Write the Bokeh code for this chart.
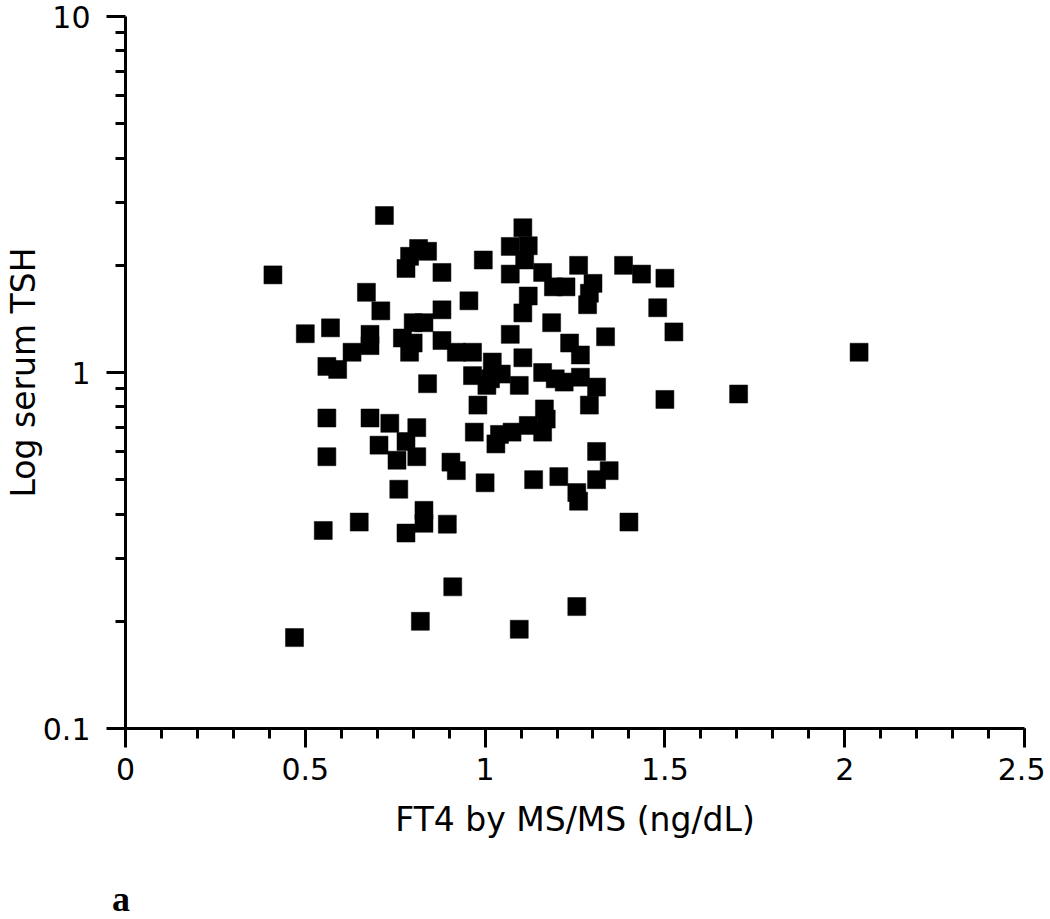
from bokeh.plotting import figure
from bokeh.layouts import column
from bokeh.models import (SingleIntervalTicker, FixedTicker, Range1d, Div,
                          CustomJSTickFormatter, ColumnDataSource)
from bokeh.embed import file_html
from bokeh.resources import INLINE

# FT4 by MS/MS (ng/dL)
ft4 = [0.41, 0.47, 0.50, 0.57, 0.56, 0.59, 0.56, 0.56, 0.55, 0.65,
       0.67, 0.71, 0.68, 0.68, 0.63, 0.72, 0.815, 0.84, 0.79, 0.78,
       0.88, 0.995, 0.955, 0.88, 0.80, 0.83, 0.77, 0.80, 0.79, 0.88,
       0.92, 0.965, 1.02, 0.965, 0.84, 1.015, 0.98, 0.735, 0.705, 0.78,
       0.755, 0.81, 0.81, 0.68, 0.76, 0.83, 0.83, 0.78, 0.895, 0.905,
       0.92, 0.97, 1.03, 1.00, 0.82, 0.91, 1.105, 1.07, 1.12, 1.11,
       1.07, 1.16, 1.26, 1.385, 1.435, 1.50, 1.19, 1.225, 1.30, 1.29,
       1.285, 1.12, 1.105, 1.48, 1.185, 1.525, 1.07, 1.235, 1.335, 1.265,
       1.105, 1.16, 1.045, 1.195, 1.265, 1.31, 1.005, 1.50, 1.095, 1.22,
       1.29, 1.165, 1.17, 1.12, 1.16, 1.075, 1.04, 1.31, 1.345, 1.31,
       1.205, 1.135, 1.255, 1.26, 1.40, 1.705, 2.04, 1.255, 1.095]

# Serum TSH (log axis)
tsh = [1.88, 0.18, 1.285, 1.335, 1.04, 1.02, 0.745, 0.58, 0.36, 0.38,
       1.68, 1.49, 1.28, 1.19, 1.14, 2.76, 2.23, 2.19, 2.12, 1.96,
       1.91, 2.07, 1.59, 1.50, 1.38, 1.38, 1.25, 1.21, 1.14, 1.23,
       1.14, 1.14, 1.07, 0.98, 0.93, 0.96, 0.81, 0.72, 0.625, 0.64,
       0.567, 0.70, 0.58, 0.745, 0.47, 0.41, 0.377, 0.354, 0.375, 0.56,
       0.53, 0.68, 0.63, 0.49, 0.20, 0.25, 2.55, 2.26, 2.27, 2.07,
       1.89, 1.91, 2.00, 2.00, 1.89, 1.84, 1.74, 1.74, 1.78, 1.67,
       1.55, 1.64, 1.47, 1.52, 1.38, 1.30, 1.28, 1.21, 1.26, 1.12,
       1.10, 1.00, 0.99, 0.96, 0.97, 0.91, 0.92, 0.84, 0.92, 0.94,
       0.81, 0.79, 0.74, 0.71, 0.68, 0.68, 0.67, 0.60, 0.53, 0.50,
       0.51, 0.50, 0.46, 0.435, 0.38, 0.87, 1.14, 0.22, 0.19]

y_major = [0.1, 1, 10]
y_minor = [0.2, 0.3, 0.4, 0.5, 0.6, 0.7, 0.8, 0.9,
           2, 3, 4, 5, 6, 7, 8, 9]

x_title = "FT4 by MS/MS (ng/dL)"
y_title = "Log serum TSH"
panel_tag = "a"

FONT = "DejaVu Sans"

p = figure(width=1045, height=879,
           x_range=Range1d(0, 2.5), y_range=Range1d(0.1, 10),
           y_axis_type="log",
           output_backend="svg", toolbar_location=None,
           min_border_left=125, min_border_right=21,
           min_border_top=16, min_border_bottom=151)

p.outline_line_color = None
p.xgrid.grid_line_color = None
p.ygrid.grid_line_color = None
p.background_fill_color = "white"
p.border_fill_color = "white"

src = ColumnDataSource(dict(x=ft4, y=tsh))
p.scatter("x", "y", source=src, marker="square", size=18,
          fill_color="black", line_color="black", line_width=0.5)

fmt = CustomJSTickFormatter(code="return tick.toString();")

xa = p.xaxis[0]
xa.ticker = SingleIntervalTicker(interval=0.5, num_minor_ticks=5)
xa.formatter = fmt
xa.axis_label = x_title

ya = p.yaxis[0]
ya.ticker = FixedTicker(ticks=y_major, minor_ticks=y_minor)
ya.formatter = fmt
ya.axis_label = y_title

for ax in (xa, ya):
    ax.axis_line_color = "black"
    ax.axis_line_width = 3
    ax.major_tick_line_color = "black"
    ax.major_tick_line_width = 3
    ax.minor_tick_line_color = "black"
    ax.minor_tick_line_width = 3
    ax.major_tick_in = 0
    ax.major_tick_out = 19
    ax.minor_tick_in = 0
    ax.minor_tick_out = 10
    ax.major_label_text_font = FONT
    ax.major_label_text_font_size = "30px"
    ax.major_label_text_color = "black"
    ax.axis_label_text_font = FONT
    ax.axis_label_text_font_size = "33px"
    ax.axis_label_text_font_style = "normal"
    ax.axis_label_text_color = "black"

xa.major_label_standoff = 10
xa.axis_label_standoff = 17
ya.major_label_standoff = 16
ya.axis_label_standoff = -3

tag = Div(text=panel_tag, width=300, height=40, margin=(0, 0, 0, 0),
          styles={"font-family": "'Liberation Serif', serif",
                  "font-weight": "bold", "font-size": "36px",
                  "line-height": "40px", "padding-left": "112px",
                  "color": "black", "white-space": "nowrap"})

layout = column(p, tag, spacing=0)

open("out.html", "w").write(file_html(layout, INLINE))
